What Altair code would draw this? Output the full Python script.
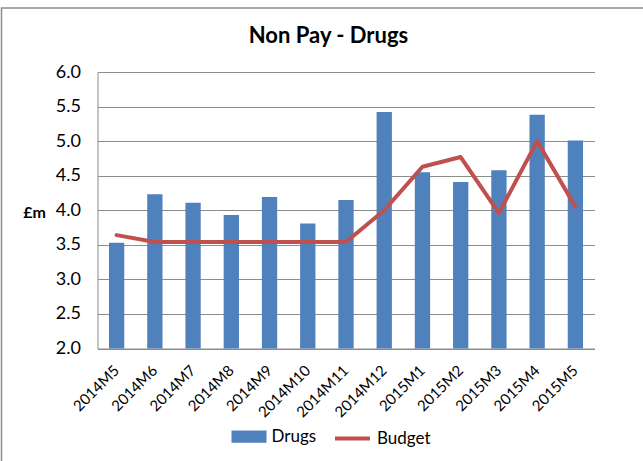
import altair as alt
import pandas as pd

months = ["2014M5", "2014M6", "2014M7", "2014M8", "2014M9", "2014M10", "2014M11",
          "2014M12", "2015M1", "2015M2", "2015M3", "2015M4", "2015M5"]
drugs = [3.53, 4.23, 4.11, 3.93, 4.19, 3.81, 4.15, 5.42, 4.55, 4.41, 4.58, 5.38, 5.01]
budget = [3.64, 3.54, 3.54, 3.54, 3.54, 3.54, 3.54, 4.00, 4.63, 4.77, 3.96, 5.00, 4.05]
bar_name, bar_color = "Drugs", "#4F81BD"
line_name, line_color = "Budget", "#C0504D"

FONT = "Lato"

bar_df = pd.DataFrame({"month": months, "value": drugs, "series": bar_name})
line_df = pd.DataFrame({"month": months, "value": budget, "series": line_name})

x_enc = alt.X(
    "month:N", sort=months,
    scale=alt.Scale(paddingInner=0.6, paddingOuter=0.3),
    axis=alt.Axis(title=None, labelAngle=-45, labelAlign="right", labelBaseline="middle",
                  labelPadding=19, labelFontSize=15, labelFont=FONT, labelColor="#000",
                  ticks=False, domainColor="#8c8c8c", domainWidth=1, grid=False),
)
y_enc = alt.Y(
    "value:Q",
    scale=alt.Scale(domain=[2, 6], nice=False, zero=False),
    axis=alt.Axis(title="£m", titleAngle=0, titleX=-63.5, titleY=140, titleAlign="center",
                  titleBaseline="middle", titleFont=FONT, titleFontSize=16, titleFontWeight="bold",
                  titleColor="#000",
                  values=[2.0, 2.5, 3.0, 3.5, 4.0, 4.5, 5.0, 5.5, 6.0], format=".1f",
                  labelFont=FONT, labelFontSize=18, labelColor="#000", labelPadding=17,
                  ticks=False, domainColor="#8c8c8c", domainWidth=1,
                  grid=True, gridColor="#8c8c8c", gridWidth=1),
)

leg_common = dict(title=None, orient="none", direction="horizontal", symbolSize=1225,
                  labelFontSize=17, labelFont=FONT, labelColor="#000", labelOffset=5,
                  padding=0, symbolOpacity=1)

bars = alt.Chart(bar_df).mark_bar(opacity=1, clip=True).encode(
    x=x_enc, y=y_enc,
    fill=alt.Fill("series:N", scale=alt.Scale(domain=[bar_name], range=[bar_color]),
                  legend=alt.Legend(symbolType="M-1,-0.35H1V0.35H-1Z", symbolStrokeWidth=0,
                                    legendX=134, legendY=347, **leg_common)),
)
line = alt.Chart(line_df).mark_line(strokeWidth=4, strokeJoin="round", strokeCap="round").encode(
    x=x_enc, y=y_enc,
    stroke=alt.Stroke("series:N", scale=alt.Scale(domain=[line_name], range=[line_color]),
                      legend=alt.Legend(symbolType="M-1,0H1", symbolStrokeWidth=4,
                                        legendX=235.5, legendY=347, **leg_common)),
)

border = alt.Chart(alt.Data(values=[{}])).mark_rect(
    fillOpacity=0, stroke="#8c8c8c", strokeWidth=1.5, clip=False
).encode(x=alt.value(-96), y=alt.value(-64), x2=alt.value(620), y2=alt.value(420))

chart = alt.layer(border, bars, line).resolve_legend(fill="independent", stroke="independent").properties(
    width=497, height=276.5,
    title=alt.TitleParams("Non Pay - Drugs", font=FONT, fontSize=22, fontWeight="bold",
                          color="#000", anchor="middle", baseline="alphabetic",
                          dx=-17.5, dy=58, offset=0),
    autosize=alt.AutoSizeParams(type="none"),
    padding={"left": 97.5, "top": 72, "right": 48.5, "bottom": 112.5},
    background="white",
).configure_view(stroke=None)

chart.save("out.html", embed_options={"renderer": "svg", "actions": False})
